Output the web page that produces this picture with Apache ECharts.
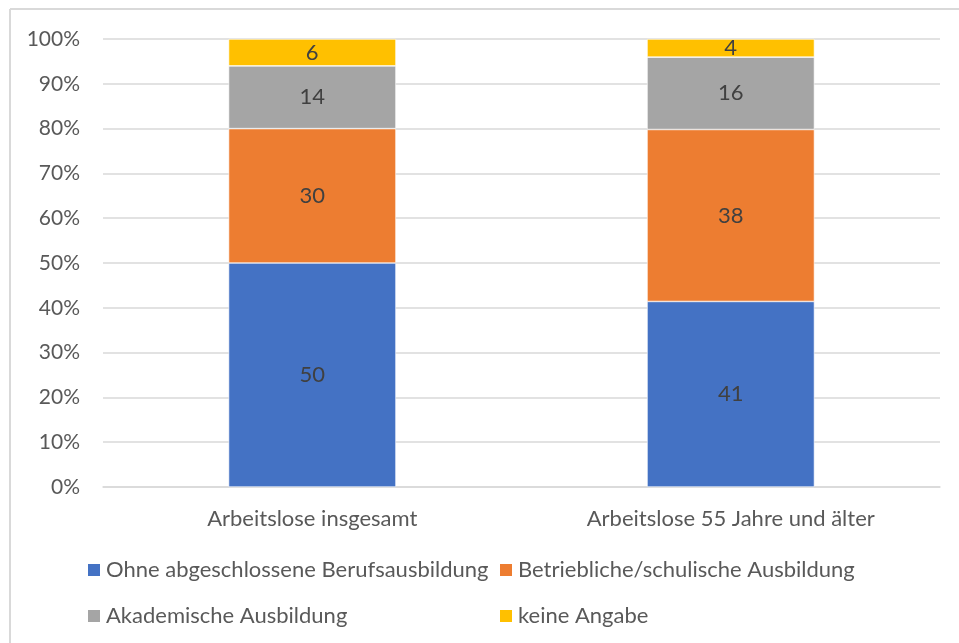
<!DOCTYPE html>
<html>
<head>
<meta charset="utf-8">
<script src="https://cdn.jsdelivr.net/npm/echarts@6/dist/echarts.min.js"></script>
<style>
  html, body { margin: 0; padding: 0; background: #fff; }
  #chart { width: 959px; height: 643px; }
</style>
</head>
<body>
<div id="chart"></div>
<script>
// Kategorien und Werte (in Prozent, gerundet)
var categories = ["Arbeitslose insgesamt", "Arbeitslose 55 Jahre und älter"];
var seriesNames = [
  "Ohne abgeschlossene Berufsausbildung",
  "Betriebliche/schulische Ausbildung",
  "Akademische Ausbildung",
  "keine Angabe"
];
var ohneAusbildung = [50, 41];
var betrieblich = [30, 38];
var akademisch = [14, 16];
var keineAngabe = [6, 4];
var yTicks = [0, 10, 20, 30, 40, 50, 60, 70, 80, 90, 100];

var colors = ["#4472c4", "#ed7d31", "#a5a5a5", "#ffc000"];
var raw = [ohneAusbildung, betrieblich, akademisch, keineAngabe];

// 100%-gestapelt: Summen je Kategorie
var totals = categories.map(function (c, i) {
  return raw.reduce(function (s, arr) { return s + arr[i]; }, 0);
});

var font = "Lato, 'Open Sans', sans-serif";

var series = raw.map(function (arr, k) {
  return {
    name: seriesNames[k],
    type: "bar",
    stack: "gesamt",
    barWidth: "40%",
    itemStyle: { color: colors[k], borderColor: "#ffffff", borderWidth: 0.6 },
    label: {
      show: true,
      position: "inside",
      color: "#404040",
      fontSize: 22,
      fontFamily: font,
      formatter: function (p) { return raw[k][p.dataIndex]; }
    },
    data: arr.map(function (v, i) { return v / totals[i] * 100; })
  };
});

// Legende: je Eintrag eine eigene Legende, damit zwei Spalten entstehen
var legendPos = [
  { left: 86, top: 559 },
  { left: 498, top: 559 },
  { left: 86, top: 605 },
  { left: 498, top: 605 }
];
var legends = seriesNames.map(function (n, k) {
  return {
    data: [n],
    left: legendPos[k].left,
    top: legendPos[k].top,
    padding: 0,
    icon: "rect",
    itemWidth: 14,
    itemHeight: 14,
    itemGap: 6,
    textStyle: { color: "#595959", fontSize: 22, fontFamily: font }
  };
});

var myChart = echarts.init(document.getElementById("chart"));
myChart.setOption({
  animation: false,
  textStyle: { fontFamily: font },
  grid: { left: 103, right: 19, top: 39, bottom: 156 },
  legend: legends,
  xAxis: {
    type: "category",
    data: categories,
    axisLine: { show: true, lineStyle: { color: "#d9d9d9", width: 1.5 } },
    axisTick: { show: false },
    axisLabel: { color: "#595959", fontSize: 22, fontFamily: font, margin: 21 }
  },
  yAxis: {
    type: "value",
    min: yTicks[0],
    max: yTicks[yTicks.length - 1],
    interval: 10,
    axisLine: { show: false },
    axisTick: { show: false },
    splitLine: { lineStyle: { color: "#d9d9d9", width: 1.5 } },
    axisLabel: {
      color: "#595959",
      fontSize: 21,
      fontFamily: font,
      margin: 23,
      formatter: "{value}%"
    }
  },
  graphic: [
    { type: "line", shape: { x1: 10, y1: 9, x2: 959, y2: 9 }, style: { stroke: "#d9d9d9", lineWidth: 2 } },
    { type: "line", shape: { x1: 10, y1: 9, x2: 10, y2: 643 }, style: { stroke: "#d9d9d9", lineWidth: 2 } }
  ],
  series: series
});

window.addEventListener("resize", function () {
  myChart.resize();
});
</script>
</body>
</html>
